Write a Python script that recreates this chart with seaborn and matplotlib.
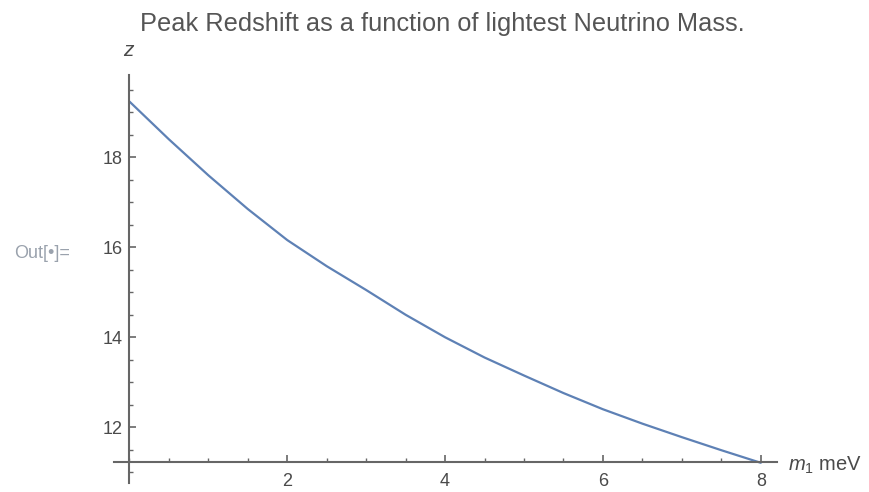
import numpy as np
import pandas as pd
import matplotlib
matplotlib.use("Agg")
import matplotlib.pyplot as plt
import seaborn as sns
from matplotlib.ticker import MultipleLocator

# lightest neutrino mass (meV) and peak redshift
m1 = [0, 0.5, 1, 1.5, 2, 2.5, 3, 3.5, 4, 4.5, 5, 5.5, 6, 6.5, 7, 7.5, 8]
z_peak = [19.24, 18.40, 17.60, 16.85, 16.16, 15.58, 15.05, 14.50, 14.00,
          13.55, 13.15, 12.76, 12.40, 12.08, 11.78, 11.49, 11.21]
x_ticks = [2, 4, 6, 8]
y_ticks = [12, 14, 16, 18]

df = pd.DataFrame({"m1": m1, "z": z_peak})

sns.set_style("ticks")
plt.rcParams['font.family'] = ['Liberation Sans', 'DejaVu Sans']
plt.rcParams['mathtext.fontset'] = 'custom'
plt.rcParams['mathtext.it'] = 'Liberation Sans:italic'
plt.rcParams['mathtext.rm'] = 'Liberation Sans'

axis_col = "#666666"
text_col = "#4a4a4a"

fig = plt.figure(figsize=(8.69, 4.92), dpi=100)
ax = fig.add_axes([0.1308, 0.0173, 0.7628, 0.8303])

sns.lineplot(data=df, x="m1", y="z", ax=ax, color="#5E81B5", linewidth=1.6)

ax.set_xlim(-0.2, 8.2)
ax.set_ylim(10.75, 19.83)
ax.spines['left'].set_position(('data', 0))
ax.spines['bottom'].set_position(('data', 11.22))
ax.spines['top'].set_visible(False)
ax.spines['right'].set_visible(False)
for s in ('left', 'bottom'):
    ax.spines[s].set_color(axis_col)
    ax.spines[s].set_linewidth(1.5)

ax.set_xticks(x_ticks)
ax.set_yticks(y_ticks)
ax.xaxis.set_minor_locator(MultipleLocator(0.5))
ax.yaxis.set_minor_locator(MultipleLocator(0.5))
ax.tick_params(which='major', direction='in', length=5, width=1.2,
               color=axis_col, labelcolor=text_col, labelsize=13)
ax.tick_params(which='minor', direction='in', length=3, width=1.0,
               color=axis_col)
ax.tick_params(axis='x', pad=8)
ax.tick_params(axis='y', pad=5)
ax.set_xlabel("")
ax.set_ylabel("")

fig.text(128 / 869, 1 - 51 / 492, "z", fontsize=15, style='italic',
         color=text_col, ha='center', va='center')
fig.text(788 / 869, 1 - 465 / 492, r"$m_1$ meV", fontsize=14.5,
         color=text_col, ha='left', va='center')
fig.text(14 / 869, 1 - 254 / 492, "Out[\u2022]=", fontsize=13,
         color="#9aa2ad", ha='left', va='center')
fig.text(442 / 869, 1 - 31 / 492,
         "Peak Redshift as a function of lightest Neutrino Mass.",
         fontsize=18.3, color="#555555", ha='center', va='baseline')

fig.savefig("out.png", dpi=100)
